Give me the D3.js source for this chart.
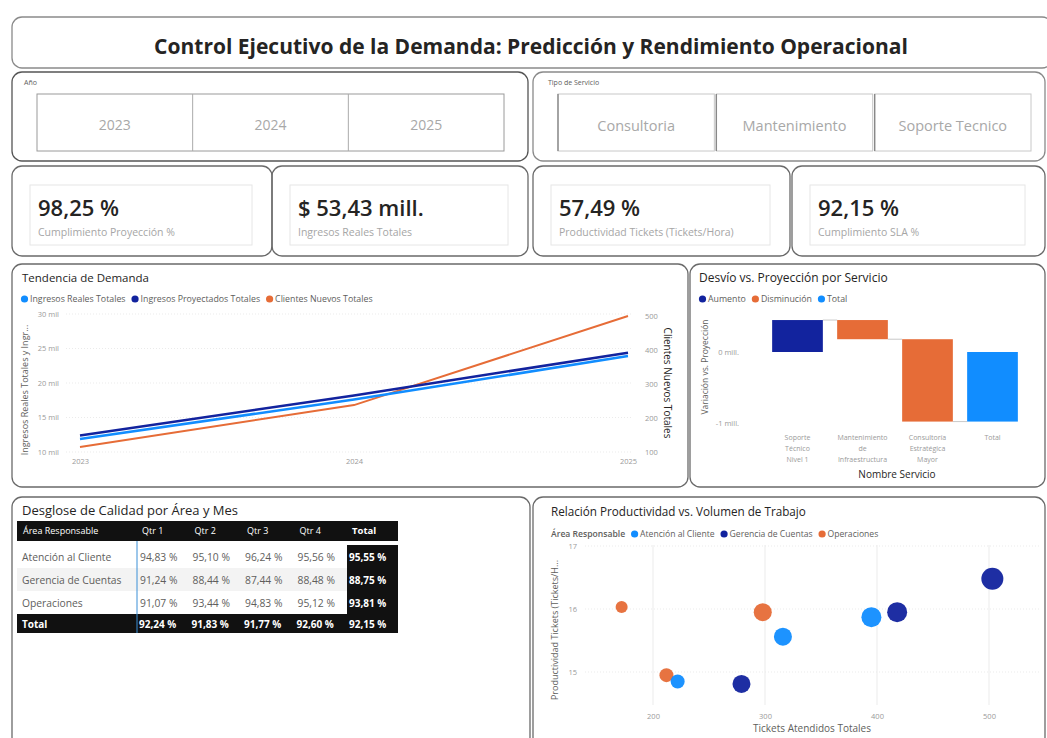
<!DOCTYPE html>
<html>
<head>
<meta charset="utf-8">
<script src="https://cdn.jsdelivr.net/npm/d3@7"></script>
<style>
  body { margin: 0; background: #fff; }
  svg text { font-family: "Open Sans", "Noto Sans", sans-serif; }
</style>
</head>
<body>
<svg id="dash" width="1047" height="738"></svg>
<script>
// ---- data ----
const years = ["2023", "2024", "2025"];
const ingresosReales = [11.9, 17.6, 23.9];        // mil
const ingresosProyectados = [12.4, 18.2, 24.4];   // mil
const clientesNuevos = [115, 238, 500];
const leftTicks = [10, 15, 20, 25, 30];
const rightTicks = [100, 200, 300, 400, 500];

const servicios = ["Consultoria", "Mantenimiento", "Soporte Tecnico"];

const kpiValues = ["98,25 %", "$ 53,43 mill.", "57,49 %", "92,15 %"];
const kpiLabels = ["Cumplimiento Proyección %", "Ingresos Reales Totales",
  "Productividad Tickets (Tickets/Hora)", "Cumplimiento SLA %"];

const wfCategories = ["Soporte Técnico Nivel 1", "Mantenimiento de Infraestructura",
  "Consultoría Estratégica Mayor", "Total"];
const wfDeltas = [0.45, -0.27, -1.16];            // mill.
const wfTicks = [-1, 0];

const areas = ["Atención al Cliente", "Gerencia de Cuentas", "Operaciones"];
const quarters = ["Qtr 1", "Qtr 2", "Qtr 3", "Qtr 4"];
const calidad = [
  [94.83, 95.10, 96.24, 95.56],
  [91.24, 88.44, 87.44, 88.48],
  [91.07, 93.44, 94.83, 95.12]
];
const calidadArea = [95.55, 88.75, 93.81];
const calidadQtr = [92.24, 91.83, 91.77, 92.60];
const calidadTotal = 92.15;

const scatterArea = ["Operaciones", "Operaciones", "Atención al Cliente", "Gerencia de Cuentas",
  "Operaciones", "Atención al Cliente", "Atención al Cliente", "Gerencia de Cuentas", "Gerencia de Cuentas"];
const scatterTickets = [172, 212, 222, 279, 298, 316, 395, 418, 503];
const scatterProd = [16.03, 14.95, 14.85, 14.81, 15.95, 15.56, 15.87, 15.95, 16.48];
const scatterSize = [6, 7, 7, 9, 9, 9, 10, 10, 11];
const scatterXTicks = [200, 300, 400, 500];
const scatterYTicks = [15, 16, 17];

// ---- setup ----
const svg = d3.select("#dash");
const col = { blue: "#118DFF", navy: "#12239E", orange: "#E66C37",
  text: "#252423", grey: "#605E5C", faint: "#9a9a9a", grid: "#ebebeb" };
const areaColor = d3.scaleOrdinal()
  .domain(["Atención al Cliente", "Gerencia de Cuentas", "Operaciones"])
  .range([col.blue, col.navy, col.orange]);
const pct = v => d3.format(".2f")(v).replace(".", ",") + " %";

function panel(x, y, w, h, stroke) {
  svg.append("rect")
    .attr("x", x).attr("y", y).attr("width", w).attr("height", h)
    .attr("rx", 10)
    .attr("fill", "none")
    .attr("stroke", stroke || "#6a6a6a")
    .attr("stroke-width", 1.3);
}

function txt(x, y, s, size, fill, opts) {
  opts = opts || {};
  return svg.append("text")
    .attr("x", x).attr("y", y)
    .attr("font-size", size)
    .attr("fill", fill)
    .attr("font-weight", opts.weight || 400)
    .attr("text-anchor", opts.anchor || "start")
    .text(s);
}

function legend(x, y, items, size) {
  let cx = x;
  items.forEach(it => {
    if (it.color) {
      svg.append("circle").attr("cx", cx + 3.5).attr("cy", y - 3).attr("r", 3.6).attr("fill", it.color);
      cx += 9;
    }
    const t = txt(cx, y, it.label, size, it.fill || col.grey, { weight: it.weight });
    cx += t.node().getComputedTextLength() + 6;
  });
}

// ---- header ----
panel(12, 17, 1040, 51, "#8a8a8a");
txt(531, 54, "Control Ejecutivo de la Demanda: Predicción y Rendimiento Operacional", 21, col.text,
  { weight: 700, anchor: "middle" });

// ---- slicers ----
panel(12, 72, 516, 89, "#555");
txt(24, 85, "Año", 7, col.grey);
svg.append("rect").attr("x", 37).attr("y", 94).attr("width", 467).attr("height", 57)
  .attr("fill", "none").attr("stroke", "#9a9a9a").attr("stroke-width", 1);
const yearX = d3.scaleBand().domain(years).range([37, 504]);
years.slice(1).forEach(y => {
  svg.append("line").attr("x1", yearX(y)).attr("x2", yearX(y)).attr("y1", 94).attr("y2", 151)
    .attr("stroke", "#aaa");
});
years.forEach(y => txt(yearX(y) + yearX.bandwidth() / 2, 130, y, 14, "#a8a8a8", { anchor: "middle" }));

panel(533, 72, 512, 89, "#8a8a8a");
txt(548, 85, "Tipo de Servicio", 7, col.grey);
const servX = d3.scaleBand().domain(servicios).range([557, 1032]);
servicios.forEach(s => {
  svg.append("rect").attr("x", servX(s) + 1).attr("y", 94).attr("width", servX.bandwidth() - 2).attr("height", 57)
    .attr("fill", "none").attr("stroke", "#c8c8c8");
  svg.append("line").attr("x1", servX(s) + 1).attr("x2", servX(s) + 1).attr("y1", 94).attr("y2", 151)
    .attr("stroke", "#888").attr("stroke-width", 1.4);
  txt(servX(s) + servX.bandwidth() / 2, 131, s, 14.5, "#a8a8a8", { anchor: "middle" });
});

// ---- KPI cards ----
const cards = [[12, 260], [272, 256], [533, 257], [792, 253]];
cards.forEach((c, i) => {
  panel(c[0], 166, c[1], 90, "#6a6a6a");
  svg.append("rect").attr("x", c[0] + 18).attr("y", 185).attr("width", c[1] - 38).attr("height", 60)
    .attr("fill", "none").attr("stroke", "#e6e6e6");
  txt(c[0] + 26, 216, kpiValues[i], 22, col.text, { weight: 600 });
  txt(c[0] + 26, 236, kpiLabels[i], 10.5, "#a6a6a6");
});

// ---- line chart ----
panel(12, 264, 676, 223, "#6a6a6a");
txt(22, 282, "Tendencia de Demanda", 11.5, col.text);
legend(21, 302, [
  { label: "Ingresos Reales Totales", color: col.blue },
  { label: "Ingresos Proyectados Totales", color: col.navy },
  { label: "Clientes Nuevos Totales", color: col.orange }
], 8.8);

const lx = d3.scalePoint().domain(years).range([80, 628]);
const ly = d3.scaleLinear().domain([10, 30]).range([452, 314]);
const ry = d3.scaleLinear().domain([100, 500]).range([452, 316]);

svg.append("g").selectAll("line").data(leftTicks).join("line")
  .attr("x1", 66).attr("x2", 632)
  .attr("y1", d => ly(d)).attr("y2", d => ly(d))
  .attr("stroke", col.grid).attr("stroke-dasharray", "1,2");

const gl = svg.append("g").attr("transform", "translate(62,0)")
  .call(d3.axisLeft(ly).tickValues(leftTicks).tickSize(0).tickFormat(d => d + " mil"));
gl.select(".domain").remove();
gl.selectAll("text").attr("font-size", 7.5).attr("fill", col.faint).attr("dy", "0.32em");

const gr = svg.append("g").attr("transform", "translate(642,0)")
  .call(d3.axisRight(ry).tickValues(rightTicks).tickSize(0));
gr.select(".domain").remove();
gr.selectAll("text").attr("font-size", 7.5).attr("fill", col.faint).attr("dy", "0.32em");

const gx = svg.append("g").attr("transform", "translate(0,456)")
  .call(d3.axisBottom(lx).tickSize(0));
gx.select(".domain").remove();
gx.selectAll("text").attr("font-size", 7.5).attr("fill", col.faint);

txt(0, 0, "Ingresos Reales Totales y Ingr...", 9, col.grey, { anchor: "middle" })
  .attr("transform", "translate(28,390) rotate(-90)");
txt(0, 0, "Clientes Nuevos Totales", 10, col.text, { anchor: "middle" })
  .attr("transform", "translate(664,383) rotate(90)");

const lineL = d3.line().x((d, i) => lx(years[i])).y(d => ly(d));
const lineR = d3.line().x((d, i) => lx(years[i])).y(d => ry(d));
svg.append("path").datum(clientesNuevos).attr("d", lineR)
  .attr("fill", "none").attr("stroke", col.orange).attr("stroke-width", 2);
svg.append("path").datum(ingresosReales).attr("d", lineL)
  .attr("fill", "none").attr("stroke", col.blue).attr("stroke-width", 2.5);
svg.append("path").datum(ingresosProyectados).attr("d", lineL)
  .attr("fill", "none").attr("stroke", col.navy).attr("stroke-width", 2.5);

// ---- waterfall ----
panel(690, 264, 355, 223, "#6a6a6a");
txt(699, 282, "Desvío vs. Proyección por Servicio", 12, col.text);
legend(699, 302, [
  { label: "Aumento", color: col.navy },
  { label: "Disminución", color: col.orange },
  { label: "Total", color: col.blue }
], 8.8);

const wx = d3.scaleBand().domain(wfCategories).range([765, 1025]).paddingInner(0.22).paddingOuter(0.11);
const wy = d3.scaleLinear().domain([-1, 0]).range([423, 352]);

let run = 0;
const wfBars = wfDeltas.map((d, i) => {
  const b = { cat: wfCategories[i], start: run, end: run + d, color: d >= 0 ? col.navy : col.orange };
  run += d;
  return b;
});
wfBars.push({ cat: "Total", start: 0, end: run, color: col.blue });

const gwy = svg.append("g").attr("transform", "translate(742,0)")
  .call(d3.axisLeft(wy).tickValues(wfTicks).tickSize(0).tickFormat(d => d + " mill."));
gwy.select(".domain").remove();
gwy.selectAll("text").attr("font-size", 7.5).attr("fill", col.faint).attr("dy", "0.32em");

wfBars.slice(0, -1).forEach((b, i) => {
  svg.append("line")
    .attr("x1", wx(b.cat) + wx.bandwidth()).attr("x2", wx(wfBars[i + 1].cat))
    .attr("y1", wy(b.end)).attr("y2", wy(b.end))
    .attr("stroke", "#bbb").attr("stroke-width", 0.8);
});
svg.append("g").selectAll("rect").data(wfBars).join("rect")
  .attr("x", d => wx(d.cat)).attr("width", wx.bandwidth())
  .attr("y", d => wy(Math.max(d.start, d.end)))
  .attr("height", d => Math.abs(wy(d.start) - wy(d.end)))
  .attr("fill", d => d.color);

wfCategories.forEach(c => {
  const words = c.split(" ");
  const lines = [];
  words.forEach(w => {
    if (lines.length && (lines[lines.length - 1] + " " + w).length <= 7 && w.length < 4)
      lines[lines.length - 1] += " " + w;
    else lines.push(w);
  });
  lines.forEach((l, k) => txt(wx(c) + wx.bandwidth() / 2, 440 + k * 11, l, 7, col.faint, { anchor: "middle" }));
});
txt(897, 478, "Nombre Servicio", 10, col.text, { anchor: "middle" });
txt(0, 0, "Variación vs. Proyección", 8.5, col.grey, { anchor: "middle" })
  .attr("transform", "translate(708,367) rotate(-90)");

// ---- matrix ----
panel(12, 497, 518, 250, "#6a6a6a");
txt(22, 515, "Desglose de Calidad por Área y Mes", 13, col.text);

const tx0 = 17, tx1 = 137, tx2 = 347, tx3 = 398;
const qx = d3.scaleBand().domain(quarters).range([tx1, tx2]);
const rowY = d3.scaleBand().domain(areas).range([545, 614]);

svg.append("rect").attr("x", tx0).attr("y", 521).attr("width", tx3 - tx0).attr("height", 20).attr("fill", "#111");
txt(tx0 + 6, 534, "Área Responsable", 9, "#fff");
quarters.forEach(q => txt(qx(q) + 5, 534, q, 9, "#fff"));
txt(tx2 + 5, 534, "Total", 9.5, "#fff", { weight: 700 });

areas.forEach((a, i) => {
  if (i === 1) svg.append("rect").attr("x", tx0).attr("y", rowY(a)).attr("width", tx2 - tx0)
    .attr("height", rowY.bandwidth()).attr("fill", "#f3f3f3");
  svg.append("rect").attr("x", tx2).attr("y", rowY(a)).attr("width", tx3 - tx2)
    .attr("height", rowY.bandwidth()).attr("fill", "#111");
  const ty = rowY(a) + rowY.bandwidth() / 2 + 4;
  txt(tx0 + 5, ty, a, 10.3, col.grey);
  quarters.forEach((q, j) => txt(qx(q) + 3, ty, pct(calidad[i][j]), 10.3, col.grey));
  txt(tx2 + 2, ty, pct(calidadArea[i]), 10, "#fff", { weight: 700 });
});
svg.append("rect").attr("x", tx0).attr("y", 614).attr("width", tx3 - tx0).attr("height", 19).attr("fill", "#111");
txt(tx0 + 5, 628, "Total", 10, "#fff", { weight: 700 });
quarters.forEach((q, j) => txt(qx(q) + 2, 628, pct(calidadQtr[j]), 10, "#fff", { weight: 700 }));
txt(tx2 + 2, 628, pct(calidadTotal), 10, "#fff", { weight: 700 });
svg.append("line").attr("x1", tx1).attr("x2", tx1).attr("y1", 541).attr("y2", 633)
  .attr("stroke", "#3b8fd6").attr("stroke-width", 1);

// ---- scatter ----
panel(533, 497, 512, 250, "#6a6a6a");
txt(551, 516, "Relación Productividad vs. Volumen de Trabajo", 11.7, col.text);
legend(551, 537, [
  { label: "Área Responsable", weight: 600, fill: col.grey },
  { label: "Atención al Cliente", color: col.blue },
  { label: "Gerencia de Cuentas", color: col.navy },
  { label: "Operaciones", color: col.orange }
], 8.6);

const sx = d3.scaleLinear().domain([200, 500]).range([653, 989]);
const sy = d3.scaleLinear().domain([15, 17]).range([672, 546]);

svg.append("g").selectAll("line").data(scatterXTicks).join("line")
  .attr("x1", d => sx(d)).attr("x2", d => sx(d)).attr("y1", 545).attr("y2", 705)
  .attr("stroke", col.grid);
svg.append("g").selectAll("line").data(scatterYTicks).join("line")
  .attr("x1", 585).attr("x2", 1040).attr("y1", d => sy(d)).attr("y2", d => sy(d))
  .attr("stroke", col.grid).attr("stroke-dasharray", "1,2");

const sgx = svg.append("g").attr("transform", "translate(0,711)")
  .call(d3.axisBottom(sx).tickValues(scatterXTicks).tickSize(0));
sgx.select(".domain").remove();
sgx.selectAll("text").attr("font-size", 7.5).attr("fill", col.faint);

const sgy = svg.append("g").attr("transform", "translate(580,0)")
  .call(d3.axisLeft(sy).tickValues(scatterYTicks).tickSize(0).tickFormat(d3.format("d")));
sgy.select(".domain").remove();
sgy.selectAll("text").attr("font-size", 7.5).attr("fill", col.faint).attr("dy", "0.32em");

txt(812, 732, "Tickets Atendidos Totales", 10, col.grey, { anchor: "middle" });
txt(0, 0, "Productividad Tickets (Tickets/H...", 9, col.grey, { anchor: "middle" })
  .attr("transform", "translate(558,630) rotate(-90)");

svg.append("g").selectAll("circle").data(scatterTickets).join("circle")
  .attr("cx", d => sx(d))
  .attr("cy", (d, i) => sy(scatterProd[i]))
  .attr("r", (d, i) => scatterSize[i])
  .attr("fill", (d, i) => areaColor(scatterArea[i]))
  .attr("opacity", 0.95);
</script>
</body>
</html>
